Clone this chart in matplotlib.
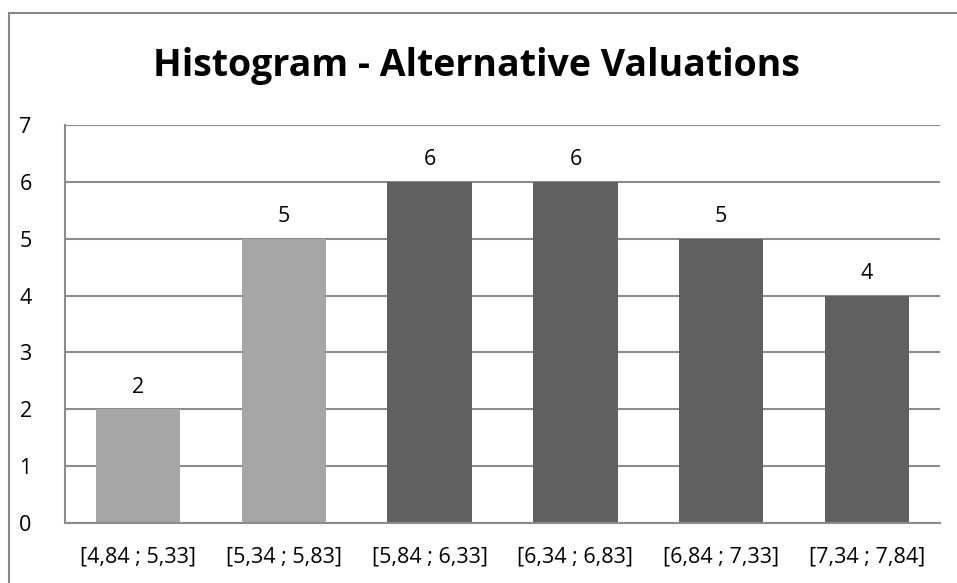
import matplotlib.pyplot as plt
from matplotlib.patches import Rectangle

plt.rcParams['font.family'] = ['Open Sans', 'DejaVu Sans']

bins = ['[4,84 ; 5,33]', '[5,34 ; 5,83]', '[5,84 ; 6,33]',
        '[6,34 ; 6,83]', '[6,84 ; 7,33]', '[7,34 ; 7,84]']
counts = [2, 5, 6, 6, 5, 4]
light = '#a6a6a6'
dark = '#606060'
colors = [light, light, dark, dark, dark, dark]

fig = plt.figure(figsize=(9.57, 5.83), dpi=100)
W, H = 957, 583
ax = fig.add_axes([65 / W, 1 - 523 / H, (940 - 65) / W, (523 - 125) / H])

# outer chart frame
fig.patches.append(Rectangle((9 / W, -0.1), 1.2, 1 - 13 / H + 0.1,
                             transform=fig.transFigure, fill=False,
                             edgecolor='#888888', linewidth=1.5))

x = range(len(bins))
bars = ax.bar(x, counts, width=0.578, color=colors, zorder=2)
for b, c in zip(bars, counts):
    ax.text(b.get_x() + b.get_width() / 2, c + 0.2, str(c),
            ha='center', va='bottom', fontsize=15.5)

ax.set_ylim(0, 7)
ax.set_xlim(-0.5, len(bins) - 0.5)
ax.set_yticks(range(8))
ax.set_xticks(list(x))
ax.set_xticklabels(bins)
ax.tick_params(axis='both', length=0, labelsize=15.5, pad=17)
ax.tick_params(axis='y', pad=24)
ax.yaxis.grid(True, color='#8c8c8c', linewidth=1.5, zorder=0)
for s in ['top', 'right']:
    ax.spines[s].set_visible(False)
for s in ['left', 'bottom']:
    ax.spines[s].set_color('#8c8c8c')
    ax.spines[s].set_linewidth(1.5)

fig.text(476 / W, 1 - 66 / H, 'Histogram - Alternative Valuations',
         ha='center', va='center', fontsize=27, fontweight='bold')

fig.savefig('out.png', dpi=100)
